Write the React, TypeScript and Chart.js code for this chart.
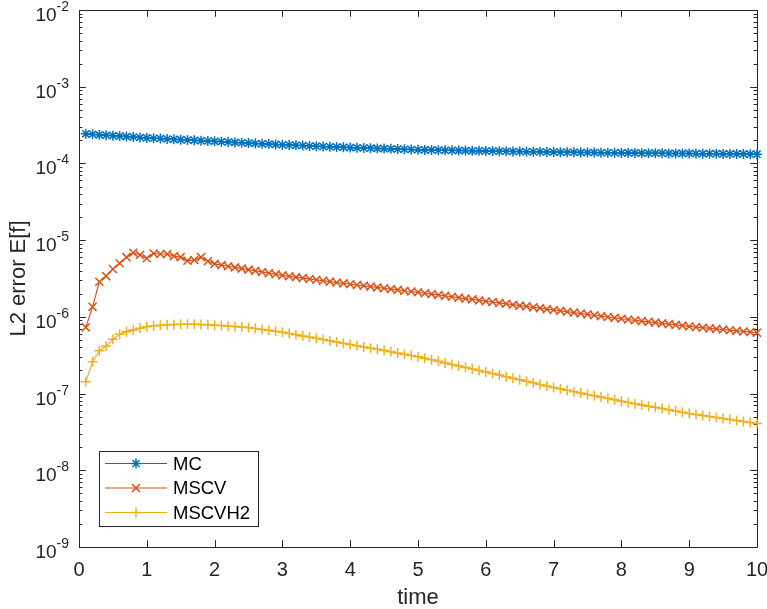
import React, { useEffect, useRef } from "react";
import { Chart, registerables } from "chart.js";
Chart.register(...registerables);

const times = [
  0.1, 0.2, 0.3, 0.4, 0.5, 0.6, 0.7, 0.8, 0.9, 1.0,
  1.1, 1.2, 1.3, 1.4, 1.5, 1.6, 1.7, 1.8, 1.9, 2.0,
  2.1, 2.2, 2.3, 2.4, 2.5, 2.6, 2.7, 2.8, 2.9, 3.0,
  3.1, 3.2, 3.3, 3.4, 3.5, 3.6, 3.7, 3.8, 3.9, 4.0,
  4.1, 4.2, 4.3, 4.4, 4.5, 4.6, 4.7, 4.8, 4.9, 5.0,
  5.1, 5.2, 5.3, 5.4, 5.5, 5.6, 5.7, 5.8, 5.9, 6.0,
  6.1, 6.2, 6.3, 6.4, 6.5, 6.6, 6.7, 6.8, 6.9, 7.0,
  7.1, 7.2, 7.3, 7.4, 7.5, 7.6, 7.7, 7.8, 7.9, 8.0,
  8.1, 8.2, 8.3, 8.4, 8.5, 8.6, 8.7, 8.8, 8.9, 9.0,
  9.1, 9.2, 9.3, 9.4, 9.5, 9.6, 9.7, 9.8, 9.9, 10.0,
];

const mcErr = [
  2.43e-4, 2.40e-4, 2.36e-4, 2.33e-4, 2.30e-4, 2.27e-4, 2.24e-4, 2.21e-4, 2.18e-4, 2.15e-4,
  2.13e-4, 2.11e-4, 2.08e-4, 2.06e-4, 2.04e-4, 2.02e-4, 2.00e-4, 1.98e-4, 1.96e-4, 1.94e-4,
  1.92e-4, 1.90e-4, 1.88e-4, 1.86e-4, 1.84e-4, 1.82e-4, 1.80e-4, 1.79e-4, 1.77e-4, 1.75e-4,
  1.74e-4, 1.72e-4, 1.71e-4, 1.69e-4, 1.68e-4, 1.66e-4, 1.65e-4, 1.64e-4, 1.62e-4, 1.61e-4,
  1.60e-4, 1.59e-4, 1.58e-4, 1.57e-4, 1.56e-4, 1.55e-4, 1.54e-4, 1.53e-4, 1.52e-4, 1.51e-4,
  1.50e-4, 1.50e-4, 1.49e-4, 1.48e-4, 1.48e-4, 1.47e-4, 1.47e-4, 1.46e-4, 1.46e-4, 1.45e-4,
  1.45e-4, 1.44e-4, 1.44e-4, 1.43e-4, 1.43e-4, 1.42e-4, 1.42e-4, 1.42e-4, 1.41e-4, 1.41e-4,
  1.40e-4, 1.40e-4, 1.40e-4, 1.39e-4, 1.39e-4, 1.39e-4, 1.38e-4, 1.38e-4, 1.38e-4, 1.37e-4,
  1.37e-4, 1.37e-4, 1.36e-4, 1.36e-4, 1.36e-4, 1.36e-4, 1.35e-4, 1.35e-4, 1.35e-4, 1.35e-4,
  1.34e-4, 1.34e-4, 1.34e-4, 1.34e-4, 1.33e-4, 1.33e-4, 1.33e-4, 1.33e-4, 1.32e-4, 1.32e-4,
];

const mscvErr = [
  7.3e-7, 1.35e-6, 2.87e-6, 3.4e-6, 4.2e-6, 5.0e-6, 6.0e-6, 6.85e-6, 6.4e-6, 5.8e-6,
  6.7e-6, 6.6e-6, 6.6e-6, 6.2e-6, 6.0e-6, 5.4e-6, 5.5e-6, 6.0e-6, 5.3e-6, 4.9e-6,
  4.73e-6, 4.57e-6, 4.41e-6, 4.26e-6, 4.12e-6, 3.98e-6, 3.85e-6, 3.72e-6, 3.59e-6, 3.47e-6,
  3.38e-6, 3.29e-6, 3.20e-6, 3.12e-6, 3.04e-6, 2.96e-6, 2.88e-6, 2.80e-6, 2.73e-6, 2.66e-6,
  2.60e-6, 2.54e-6, 2.48e-6, 2.42e-6, 2.36e-6, 2.30e-6, 2.25e-6, 2.19e-6, 2.14e-6, 2.09e-6,
  2.03e-6, 1.98e-6, 1.93e-6, 1.88e-6, 1.83e-6, 1.78e-6, 1.73e-6, 1.69e-6, 1.64e-6, 1.60e-6,
  1.56e-6, 1.52e-6, 1.48e-6, 1.44e-6, 1.40e-6, 1.37e-6, 1.33e-6, 1.30e-6, 1.26e-6, 1.23e-6,
  1.198e-6, 1.167e-6, 1.136e-6, 1.107e-6, 1.078e-6, 1.050e-6, 1.022e-6, 9.96e-7, 9.70e-7, 9.44e-7,
  9.23e-7, 9.02e-7, 8.81e-7, 8.61e-7, 8.42e-7, 8.23e-7, 8.04e-7, 7.86e-7, 7.68e-7, 7.50e-7,
  7.36e-7, 7.22e-7, 7.09e-7, 6.96e-7, 6.83e-7, 6.70e-7, 6.57e-7, 6.45e-7, 6.33e-7, 6.21e-7,
];

const mscvh2Err = [
  1.43e-7, 2.60e-7, 3.62e-7, 4.17e-7, 5.09e-7, 5.92e-7, 6.41e-7, 6.75e-7, 7.08e-7, 7.45e-7,
  7.62e-7, 7.76e-7, 7.87e-7, 7.94e-7, 7.98e-7, 7.98e-7, 7.98e-7, 7.94e-7, 7.87e-7, 7.80e-7,
  7.69e-7, 7.57e-7, 7.46e-7, 7.35e-7, 7.24e-7, 7.04e-7, 6.85e-7, 6.67e-7, 6.49e-7, 6.31e-7,
  6.08e-7, 5.86e-7, 5.65e-7, 5.45e-7, 5.25e-7, 5.06e-7, 4.88e-7, 4.70e-7, 4.53e-7, 4.37e-7,
  4.21e-7, 4.06e-7, 3.91e-7, 3.77e-7, 3.63e-7, 3.50e-7, 3.37e-7, 3.25e-7, 3.13e-7, 3.02e-7,
  2.88e-7, 2.75e-7, 2.63e-7, 2.51e-7, 2.40e-7, 2.29e-7, 2.19e-7, 2.09e-7, 2.00e-7, 1.91e-7,
  1.823e-7, 1.740e-7, 1.661e-7, 1.586e-7, 1.514e-7, 1.445e-7, 1.379e-7, 1.317e-7, 1.257e-7, 1.20e-7,
  1.152e-7, 1.105e-7, 1.060e-7, 1.018e-7, 9.76e-8, 9.37e-8, 8.99e-8, 8.63e-8, 8.28e-8, 7.94e-8,
  7.65e-8, 7.38e-8, 7.11e-8, 6.86e-8, 6.61e-8, 6.37e-8, 6.14e-8, 5.92e-8, 5.71e-8, 5.50e-8,
  5.34e-8, 5.18e-8, 5.03e-8, 4.88e-8, 4.73e-8, 4.59e-8, 4.46e-8, 4.33e-8, 4.20e-8, 4.07e-8,
];

const seriesNames = ["MC", "MSCV", "MSCVH2"];
const seriesColors = ["#0072BD", "#D95319", "#EDB120"];
const seriesMarkers = ["star", "crossRot", "cross"];
const xTicks = [0, 1, 2, 3, 4, 5, 6, 7, 8, 9, 10];
const yExponents = [-9, -8, -7, -6, -5, -4, -3, -2];
const xTitle = "time";
const yTitle = "L2 error E[f]";

const FONT = '"Liberation Sans", Arial, Helvetica, sans-serif';
const AXIS = "#262626";

function markerRadius(style: string) {
  return style === "crossRot" ? 5.7 : 5;
}

function drawMarker(ctx: CanvasRenderingContext2D, style: string, x: number, y: number, r: number) {
  ctx.beginPath();
  if (style === "cross" || style === "star") {
    ctx.moveTo(x - r, y); ctx.lineTo(x + r, y);
    ctx.moveTo(x, y - r); ctx.lineTo(x, y + r);
  }
  if (style === "crossRot" || style === "star") {
    const d = r * Math.SQRT1_2;
    ctx.moveTo(x - d, y - d); ctx.lineTo(x + d, y + d);
    ctx.moveTo(x - d, y + d); ctx.lineTo(x + d, y - d);
  }
  ctx.stroke();
}

const axesPlugin = {
  id: "matlabAxes",
  beforeDatasetsDraw(chart: any) {
    const { ctx, chartArea: a, scales } = chart;
    const xs = scales.x, ys = scales.y;
    ctx.save();
    ctx.strokeStyle = AXIS;
    ctx.lineWidth = 1;
    ctx.beginPath();
    ctx.rect(Math.round(a.left) + 0.5, Math.round(a.top) + 0.5, Math.round(a.right - a.left), Math.round(a.bottom - a.top));
    ctx.stroke();
    const major = 6.8, minor = 3.4;
    ctx.beginPath();
    xTicks.forEach((t) => {
      const px = Math.round(xs.getPixelForValue(t)) + 0.5;
      ctx.moveTo(px, a.bottom); ctx.lineTo(px, a.bottom - major);
      ctx.moveTo(px, a.top); ctx.lineTo(px, a.top + major);
    });
    yExponents.forEach((e, i) => {
      const py = Math.round(ys.getPixelForValue(Math.pow(10, e))) + 0.5;
      ctx.moveTo(a.left, py); ctx.lineTo(a.left + major, py);
      ctx.moveTo(a.right, py); ctx.lineTo(a.right - major, py);
      if (i < yExponents.length - 1) {
        for (let m = 2; m <= 9; m++) {
          const pm = Math.round(ys.getPixelForValue(m * Math.pow(10, e))) + 0.5;
          ctx.moveTo(a.left, pm); ctx.lineTo(a.left + minor, pm);
          ctx.moveTo(a.right, pm); ctx.lineTo(a.right - minor, pm);
        }
      }
    });
    ctx.stroke();

    // tick labels
    ctx.fillStyle = AXIS;
    ctx.textBaseline = "middle";
    ctx.textAlign = "center";
    ctx.font = `20px ${FONT}`;
    xTicks.forEach((t) => {
      ctx.fillText(String(t), xs.getPixelForValue(t), a.bottom + 23);
    });
    yExponents.forEach((e) => {
      const py = ys.getPixelForValue(Math.pow(10, e));
      const expText = "-" + String(Math.abs(e));
      ctx.font = `14px ${FONT}`;
      const ew = ctx.measureText(expText).width;
      ctx.font = `19px ${FONT}`;
      const bw = ctx.measureText("10").width;
      const right = a.left - 10;
      ctx.textAlign = "left";
      ctx.textBaseline = "alphabetic";
      ctx.fillText("10", right - ew - bw, py + 11);
      ctx.font = `14px ${FONT}`;
      ctx.fillText(expText, right - ew, py + 1);
    });

    // axis titles
    ctx.font = `22px ${FONT}`;
    ctx.textAlign = "center";
    ctx.textBaseline = "middle";
    ctx.fillText(xTitle, (a.left + a.right) / 2, a.bottom + 51);
    ctx.save();
    ctx.translate(19, (a.top + a.bottom) / 2);
    ctx.rotate(-Math.PI / 2);
    ctx.fillText(yTitle, 0, 0);
    ctx.restore();
    ctx.restore();
  },
  afterDraw(chart: any) {
    const { ctx, chartArea: a } = chart;
    ctx.save();
    const bx = a.left + 20, by = a.bottom - 96, bw = 159, bh = 75;
    ctx.fillStyle = "#ffffff";
    ctx.fillRect(bx, by, bw, bh);
    ctx.strokeStyle = AXIS;
    ctx.lineWidth = 1;
    ctx.strokeRect(Math.round(bx) + 0.5, Math.round(by) + 0.5, bw, bh);
    chart.data.datasets.forEach((ds: any, i: number) => {
      const y = by + 12.5 + i * 24.5;
      ctx.strokeStyle = ds.borderColor;
      ctx.lineWidth = 1.2;
      ctx.beginPath();
      ctx.moveTo(bx + 6, y); ctx.lineTo(bx + 68, y);
      ctx.stroke();
      ctx.lineWidth = 1.5;
      drawMarker(ctx, ds.pointStyle, bx + 37, y, markerRadius(ds.pointStyle));
      ctx.fillStyle = "#000000";
      ctx.font = `18.5px ${FONT}`;
      ctx.textAlign = "left";
      ctx.textBaseline = "middle";
      ctx.fillText(ds.label, bx + 74, y + 1);
    });
    ctx.restore();
  },
};

export default function App() {
  const ref = useRef<HTMLCanvasElement | null>(null);
  useEffect(() => {
    document.body.style.margin = "0";
    if (!ref.current) return;
    const allSeries = [mcErr, mscvErr, mscvh2Err];
    const chart = new Chart(ref.current, {
      type: "line",
      data: {
        datasets: allSeries.map((vals, i) => ({
          label: seriesNames[i],
          data: times.map((t, j) => ({ x: t, y: vals[j] })),
          borderColor: seriesColors[i],
          backgroundColor: "transparent",
          borderWidth: 1.2,
          pointStyle: seriesMarkers[i] as any,
          pointRadius: markerRadius(seriesMarkers[i]),
          pointBorderWidth: 1.5,
          pointBorderColor: seriesColors[i],
          pointBackgroundColor: "transparent",
          tension: 0,
          clip: false as any,
        })),
      },
      options: {
        animation: false,
        responsive: true,
        maintainAspectRatio: false,
        layout: { padding: { top: 10, right: 10, left: 0, bottom: 0 } },
        plugins: { legend: { display: false }, tooltip: { enabled: false } },
        events: [],
        scales: {
          x: {
            type: "linear",
            min: 0,
            max: 10,
            grid: { display: false },
            border: { display: false },
            ticks: { display: false },
            afterFit: (s: any) => { s.height = 62; },
          },
          y: {
            type: "logarithmic",
            min: 1e-9,
            max: 1e-2,
            grid: { display: false },
            border: { display: false },
            ticks: { display: false },
            afterFit: (s: any) => { s.width = 79; },
          },
        },
      },
      plugins: [axesPlugin],
    });
    return () => chart.destroy();
  }, []);
  return (
    <div style={{ position: "fixed", left: 0, top: 0, width: 767, height: 609, background: "#fff" }}>
      <canvas ref={ref} />
    </div>
  );
}
